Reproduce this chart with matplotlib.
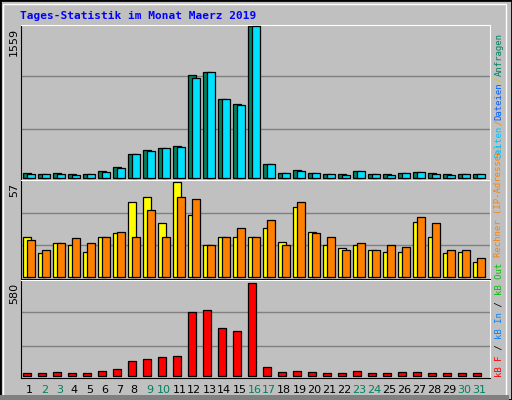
import numpy as np
import matplotlib
matplotlib.use('Agg')
import matplotlib.pyplot as plt
from matplotlib.patches import Rectangle

days = np.arange(1, 32)
weekend = [2, 3, 9, 10, 16, 17, 23, 24, 30, 31]

# values
anfragen = [49, 39, 49, 39, 39, 71, 113, 240, 282, 303, 324, 1054, 1086, 811, 758, 1563,
            145, 49, 81, 49, 39, 39, 71, 39, 39, 49, 60, 49, 39, 39, 39]
dateien = [39, 39, 39, 28, 39, 60, 102, 240, 271, 303, 314, 1023, 1086, 811, 748, 1563,
           145, 49, 71, 49, 39, 28, 71, 39, 28, 49, 60, 39, 28, 39, 39]
besuche = [24, 14, 20, 19, 15, 24, 26, 45, 48, 32, 57, 37, 19, 24, 24, 24,
           29, 21, 42, 27, 19, 17, 19, 16, 15, 15, 33, 24, 14, 15, 9]
rechner = [22, 16, 20, 23, 20, 24, 27, 24, 40, 24, 48, 47, 19, 24, 29, 24,
           34, 19, 45, 26, 24, 16, 20, 16, 19, 18, 36, 32, 16, 16, 11]
kb = [15, 15, 21, 15, 15, 28, 40, 91, 104, 116, 123, 396, 410, 301, 282, 580,
      53, 21, 28, 21, 15, 15, 28, 15, 15, 21, 21, 15, 15, 15, 15]

BG = '#c0c0c0'
GRID = '#808080'
WEEKEND = '#00805f'

fig = plt.figure(figsize=(5.12, 4.0), dpi=100)
fig.patch.set_facecolor(BG)
# outer 3D border
fig.add_artist(Rectangle((0, 0), 1, 1, transform=fig.transFigure, fill=False,
                         edgecolor='black', linewidth=2))
fig.add_artist(Rectangle((0.006, 0.008), 0.982, 0.982, transform=fig.transFigure,
                         fill=False, edgecolor='white', linewidth=1))
fig.add_artist(Rectangle((0.0, 0.0), 0.994, 0.012, transform=fig.transFigure,
                         facecolor='#808080', edgecolor='none'))

fig.text(20 / 512, 1 - 16 / 400, 'Tages-Statistik im Monat Maerz 2019', color='#0000ff',
         family='DejaVu Sans Mono', fontweight='bold', fontsize=8, va='center')

L, R = 21 / 512, 490 / 512
panels = [(25, 180), (180, 279), (280, 378)]


def make_ax(top, bot):
    ax = fig.add_axes([L, 1 - bot / 400, R - L, (bot - top) / 400])
    ax.set_facecolor(BG)
    ax.set_xlim(0.35, 31.6)
    ax.set_xticks([])
    ax.set_yticks([])
    for s in ax.spines.values():
        s.set_color('black')
    ax.spines['top'].set_color('white')
    ax.spines['right'].set_color('white')
    return ax


def grids(ax, fr):
    for f in fr:
        ax.axhline(f, color=GRID, linewidth=1, zorder=0,
                   transform=ax.transAxes) if False else \
            ax.plot([0, 1], [f, f], color=GRID, linewidth=1, zorder=0,
                    transform=ax.transAxes)


ax1 = make_ax(*panels[0])
ax1.set_ylim(-25, 1559 * 1.01)
grids(ax1, (0.33, 0.67))
ax1.bar(days - 0.24, anfragen, width=0.53, color='#00805f',
        edgecolor='black', linewidth=0.9, zorder=2)
ax1.bar(days + 0.02, dateien, width=0.51, color='#00e0ff', edgecolor='black',
        linewidth=0.9, zorder=3)

ax2 = make_ax(*panels[1])
ax2.set_ylim(-1.4, 57 * 1.02)
grids(ax2, (0.34, 0.67))
ax2.bar(days - 0.24, besuche, width=0.53, color='#ffff00', edgecolor='black',
        linewidth=0.9, zorder=2)
ax2.bar(days + 0.02, rechner, width=0.51, color='#ff8000', edgecolor='black',
        linewidth=0.9, zorder=3)

ax3 = make_ax(*panels[2])
ax3.set_ylim(-14, 580 * 1.03)
grids(ax3, (0.33, 0.67))
ax3.bar(days - 0.26, kb, width=0.51, color='#ff0000', edgecolor='black',
        linewidth=0.9, zorder=2)

for d in days:
    ax3.text(d - 0.1, -0.12, str(d), transform=ax3.get_xaxis_transform(),
             ha='center', va='center', fontsize=8,
             color=WEEKEND if d in weekend else 'black')

# left max labels
for (top, bot), lab in zip(panels, ['1559', '57', '580']):
    fig.text(14 / 512, 1 - (top + 3) / 400, lab, rotation=90, ha='center', va='top',
             fontsize=8, color='black')


# right legend labels (vertical, bottom to top)
def vlabel(y0_px, parts, fs=6.5):
    step = fs * 0.602 * 100 / 72
    y = y0_px
    for txt, col in parts:
        fig.text(499 / 512, 1 - y / 400, txt, rotation=90, ha='center', va='bottom',
                 fontsize=fs, color=col, family='DejaVu Sans Mono')
        y -= len(txt) * step


vlabel(158, [('Seiten', '#00c0ff'), ('/', '#ff8000'), ('Dateien', '#0060ff'),
             ('/', '#d0d000'), ('Anfragen', '#00805f')])
vlabel(377, [('kB F', '#ff0000'), (' / ', '#000000'), ('kB In', '#0080ff'),
             (' / ', '#000000'), ('kB Out', '#00c000'), (' ', 'k'),
             ('Rechner (IP-Adressen)', '#ff8000')])

fig.savefig('out.png', dpi=100, facecolor=BG)
